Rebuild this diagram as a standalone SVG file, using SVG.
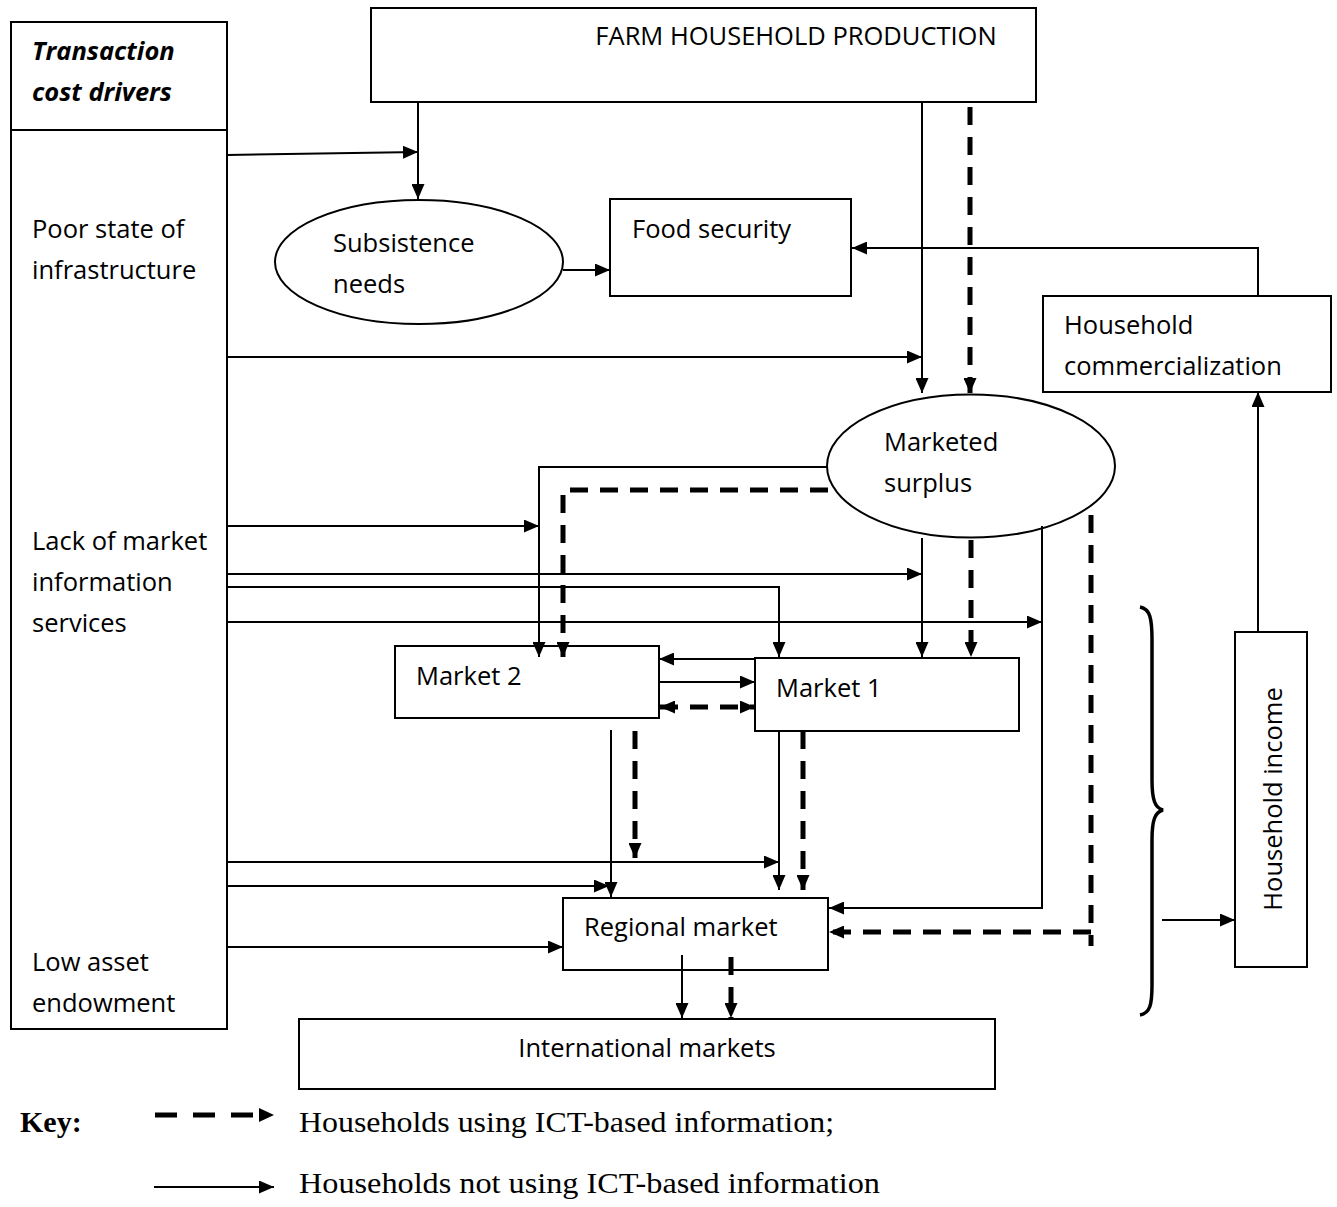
<svg xmlns="http://www.w3.org/2000/svg" width="1337" height="1207" viewBox="0 0 1337 1207">
<style>
.box{fill:#fff;stroke:#000;stroke-width:2}
.t{font-family:"Open Sans","Noto Sans",sans-serif;font-size:25.5px;fill:#000}
.bi{font-weight:bold;font-style:italic}
.s{fill:none;stroke:#000;stroke-width:2}
.d{fill:none;stroke:#000;stroke-width:5;stroke-dasharray:18 12}
.k{font-family:"Liberation Serif","Times New Roman",serif;font-size:30px;fill:#000}
</style>
<defs>
<marker id="a" markerUnits="userSpaceOnUse" markerWidth="15" markerHeight="13" refX="15" refY="6.5" orient="auto"><path d="M0,0 L15,6.5 L0,13 z" fill="#000"/></marker>
<marker id="as" markerUnits="userSpaceOnUse" markerWidth="15" markerHeight="13" refX="15" refY="6.5" orient="auto-start-reverse"><path d="M0,0 L15,6.5 L0,13 z" fill="#000"/></marker>
</defs>
<g id="drivers">
<rect class="box" x="11" y="22" width="216" height="1007"/>
<line x1="11" y1="130" x2="227" y2="130" stroke="#000" stroke-width="2"/>
<text class="t bi" x="32" y="60">Transaction</text>
<text class="t bi" x="32" y="101">cost drivers</text>
<text class="t" x="32" y="238">Poor state of</text>
<text class="t" x="32" y="279">infrastructure</text>
<text class="t" x="32" y="550">Lack of market</text>
<text class="t" x="32" y="591">information</text>
<text class="t" x="32" y="632">services</text>
<text class="t" x="32" y="971">Low asset</text>
<text class="t" x="32" y="1012">endowment</text>
</g>
<g id="farm"><rect class="box" x="371" y="8" width="665" height="94"/><text class="t" x="796" y="45" text-anchor="middle">FARM HOUSEHOLD PRODUCTION</text></g>
<g id="subsistence"><ellipse class="box" cx="419" cy="262" rx="144" ry="62"/><text class="t" x="333" y="252">Subsistence</text><text class="t" x="333" y="293">needs</text></g>
<g id="food"><rect class="box" x="610" y="199" width="241" height="97"/><text class="t" x="632" y="238">Food security</text></g>
<g id="commercialization"><rect class="box" x="1043" y="296" width="288" height="96"/><text class="t" x="1064" y="334">Household</text><text class="t" x="1064" y="375">commercialization</text></g>
<g id="surplus"><ellipse class="box" cx="971" cy="466" rx="144" ry="71.5"/><text class="t" x="884" y="451">Marketed</text><text class="t" x="884" y="492">surplus</text></g>
<g id="market2"><rect class="box" x="395" y="646" width="264" height="72"/><text class="t" x="416" y="685">Market 2</text></g>
<g id="market1"><rect class="box" x="755" y="658" width="264" height="73"/><text class="t" x="776" y="697">Market 1</text></g>
<g id="regional"><rect class="box" x="563" y="898" width="265" height="72"/><text class="t" x="584" y="936">Regional market</text></g>
<g id="international"><rect class="box" x="299" y="1019" width="696" height="70"/><text class="t" x="647" y="1057" text-anchor="middle">International markets</text></g>
<g id="income"><rect class="box" x="1235" y="632" width="72" height="335"/><text class="t" transform="translate(1282 799) rotate(-90)" text-anchor="middle">Household income</text></g>
<g id="connectors">
<path class="s" d="M227 155 L418 152" marker-end="url(#a)"/>
<path class="s" d="M418 102 V199" marker-end="url(#a)"/>
<path class="s" d="M563 270 H610" marker-end="url(#a)"/>
<path class="s" d="M1258 296 V248 H852" marker-end="url(#a)"/>
<path class="s" d="M922 102 V393" marker-end="url(#a)"/>
<path class="s" d="M227 357 H922" marker-end="url(#a)"/>
<path class="s" d="M827 467 H539 V657" marker-end="url(#a)"/>
<path class="s" d="M227 526 H539" marker-end="url(#a)"/>
<path class="s" d="M227 574 H922" marker-end="url(#a)"/>
<path class="s" d="M227 587 H779 V657" marker-end="url(#a)"/>
<path class="s" d="M227 622 H1042" marker-end="url(#a)"/>
<path class="s" d="M922 538 V657" marker-end="url(#a)"/>
<path class="s" d="M1042 526 V908 H829" marker-end="url(#a)"/>
<path class="s" d="M755 659 H659" marker-end="url(#a)"/>
<path class="s" d="M659 682 H755" marker-end="url(#a)"/>
<path class="s" d="M611 730 V897" marker-end="url(#a)"/>
<path class="s" d="M779 731 V890" marker-end="url(#a)"/>
<path class="s" d="M227 862 H779" marker-end="url(#a)"/>
<path class="s" d="M227 886 H609" marker-end="url(#a)"/>
<path class="s" d="M227 947 H563" marker-end="url(#a)"/>
<path class="s" d="M682 955 V1018" marker-end="url(#a)"/>
<path class="s" d="M1258 632 V392" marker-end="url(#a)"/>
<path class="s" d="M1162 920 H1235" marker-end="url(#a)"/>
<path class="d" d="M970 107 V393" marker-end="url(#a)"/>
<path class="d" d="M828 490 H563 V657" marker-end="url(#a)"/>
<path class="d" d="M971 540 V657" marker-end="url(#a)"/>
<path class="d" d="M1091 515 V946"/>
<path class="d" d="M1091 932 H829" marker-end="url(#a)"/>
<path class="d" d="M660 707 H755" marker-start="url(#as)" marker-end="url(#as)"/>
<path class="d" d="M635 731 V858" marker-end="url(#a)"/>
<path class="d" d="M803 731 V890" marker-end="url(#a)"/>
<path class="d" d="M731 957 V1018" marker-end="url(#a)"/>
<path d="M1140 607 C1150 609 1152 618 1152 640 V780 C1152 800 1155 808 1163 810 C1155 812 1152 820 1152 840 V985 C1152 1005 1150 1013 1140 1015" fill="none" stroke="#000" stroke-width="3.5"/>
</g>
<g id="key">
<text class="k" x="20" y="1132" font-weight="bold">Key:</text>
<path d="M155 1115 H259" fill="none" stroke="#000" stroke-width="5" stroke-dasharray="22 16"/>
<path d="M259 1108 L274 1115 L259 1122 z" fill="#000"/>
<text class="k" x="299" y="1132" textLength="535" lengthAdjust="spacingAndGlyphs">Households using ICT-based information;</text>
<path class="s" d="M154 1187 H274" marker-end="url(#a)"/>
<text class="k" x="299" y="1193" textLength="581" lengthAdjust="spacingAndGlyphs">Households not using ICT-based information</text>
</g>
</svg>
